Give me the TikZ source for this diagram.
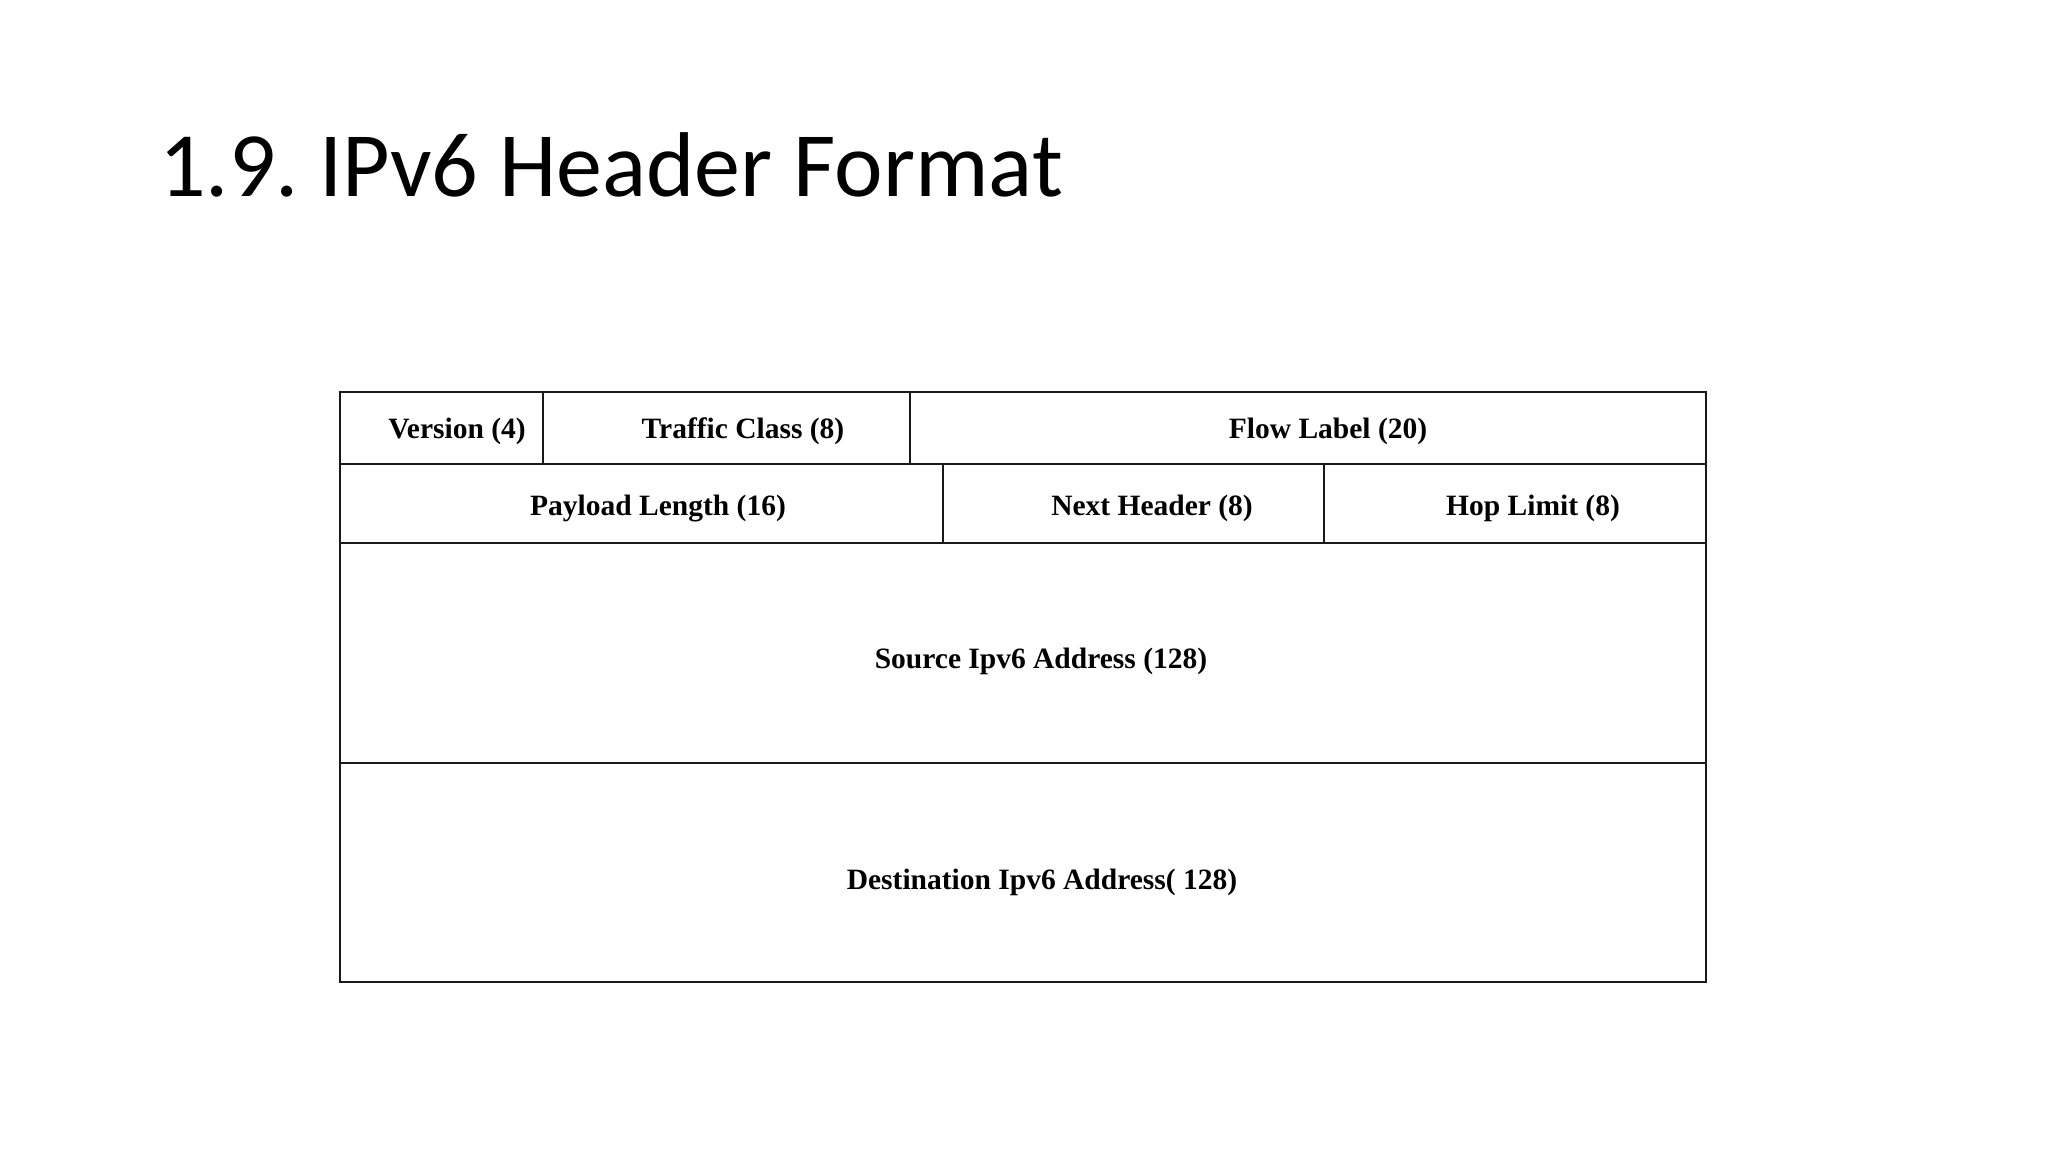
\documentclass[tikz,border=0pt]{standalone}
\usepackage{fontspec}
\setmainfont{Liberation Serif}
\newfontfamily\titlefont{Carlito}
\begin{document}
\begin{tikzpicture}[x=1bp,y=-1bp,
  cell/.style={draw=black!90, line width=2bp, inner sep=0pt, outer sep=0pt, anchor=north west},
  lbl/.style={font=\fontsize{29.5bp}{36bp}\selectfont\bfseries, anchor=base, inner sep=0pt}]
\useasboundingbox[fill=white] (0,0) rectangle (2048,1152);
\node[anchor=base west, inner sep=0pt, font=\titlefont\fontsize{92bp}{110bp}\selectfont\frenchspacing] (title) at (159,196) {1.9. IPv6 Header Format};
% row 1
\node[cell, minimum width=203.7bp, minimum height=71.8bp] (ver) at (339.6,391.8) {};
\node[cell, minimum width=367bp, minimum height=71.8bp] (tc) at (543.3,391.8) {};
\node[cell, minimum width=795.4bp, minimum height=71.8bp] (fl) at (910.3,391.8) {};
% row 2
\node[cell, minimum width=603.4bp, minimum height=79.7bp] (pl) at (339.6,463.6) {};
\node[cell, minimum width=381.4bp, minimum height=79.7bp] (nh) at (943,463.6) {};
\node[cell, minimum width=381.3bp, minimum height=79.7bp] (hl) at (1324.4,463.6) {};
% rows 3, 4
\node[cell, minimum width=1366.1bp, minimum height=219.4bp] (src) at (339.6,543.3) {};
\node[cell, minimum width=1366.1bp, minimum height=219.4bp] (dst) at (339.6,762.7) {};
% labels
\node[lbl] (tver) at (457,438) {Version (4)};
\node[lbl] (ttc) at (743,438) {Traffic Class (8)};
\node[lbl] (tfl) at (1328,438) {Flow Label (20)};
\node[lbl] (tpl) at (658,515) {Payload Length (16)};
\node[lbl] (tnh) at (1152,515) {Next Header (8)};
\node[lbl] (thl) at (1533,515) {Hop Limit (8)};
\node[lbl] (tsrc) at (1041,668.5) {Source Ipv6 Address (128)};
\node[lbl] (tdst) at (1042,889) {Destination Ipv6 Address( 128)};
\end{tikzpicture}
\end{document}
